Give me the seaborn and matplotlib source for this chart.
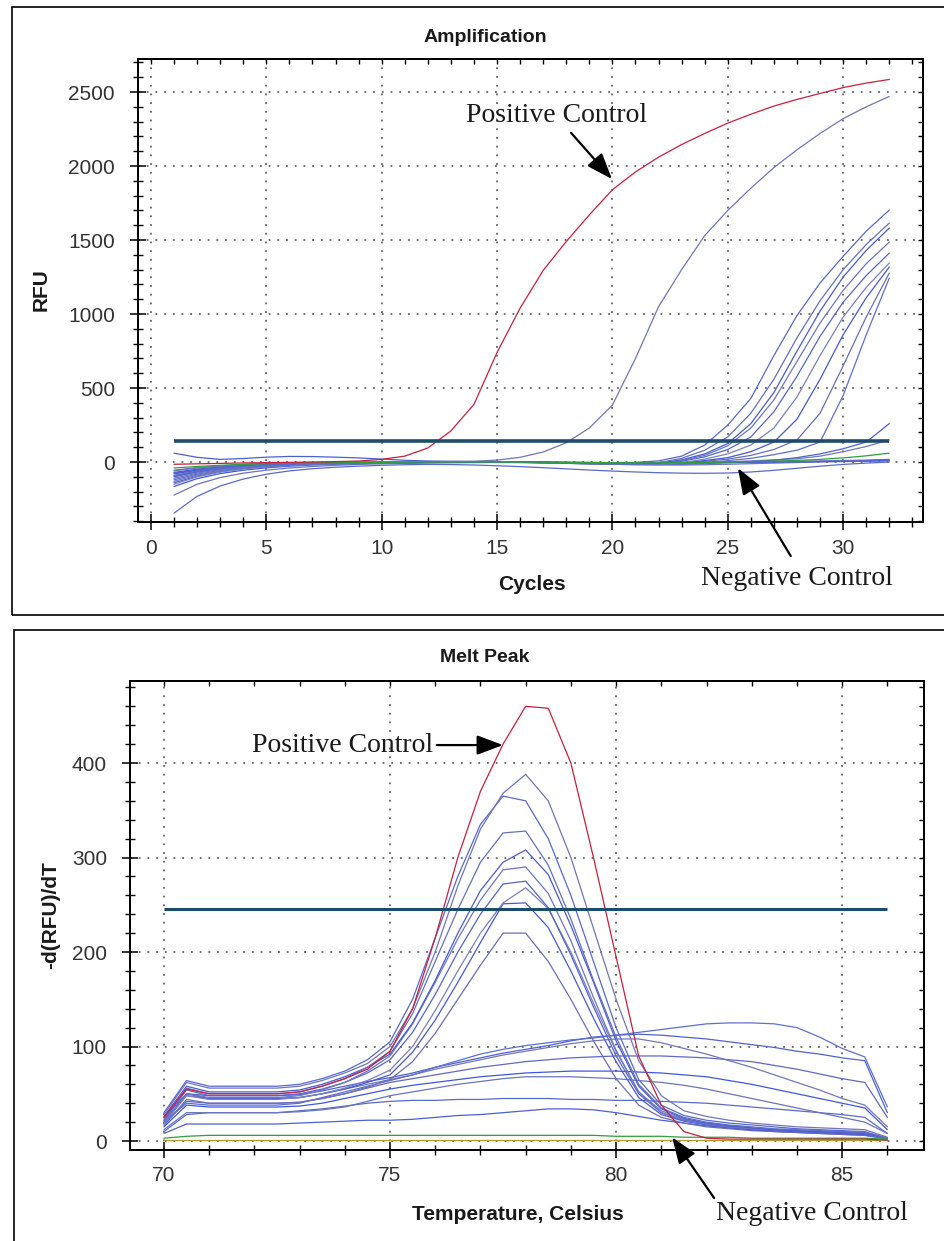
import matplotlib
matplotlib.use("Agg")
import matplotlib.pyplot as plt
import seaborn as sns
import pandas as pd
from matplotlib.ticker import MultipleLocator
from matplotlib.patches import Rectangle

# ---------------- Amplification data (RFU per cycle) ----------------
amp_cycles = list(range(1, 33))
amp_positive = [-15, -12, -9, -6, -4, -2, 0, 3, 7, 18, 40, 95, 210, 390, 740, 1040,
                1295, 1490, 1670, 1840, 1960, 2060, 2145, 2220, 2290, 2350, 2405, 2450,
                2490, 2530, 2560, 2585]
amp_early = [-60, -40, -26, -16, -9, -5, -2, 0, 1, 2, 3, 4, 5, 6, 13, 32, 68, 130, 230,
             385, 700, 1050, 1300, 1530, 1700, 1850, 1990, 2110, 2220, 2320, 2400, 2470]
amp_l1 = [-90, -60, -40, -28, -20, -14, -10, -7, -5, -3, -2, -1, 0, 0, 1, 0, -2, -4, -6,
          -6, -2, 8, 40, 115, 250, 430, 720, 990, 1210, 1390, 1560, 1703]
amp_l2 = [-110, -75, -50, -34, -24, -17, -12, -9, -6, -4, -3, -2, -1, 0, 0, -2, -5, -8,
          -10, -11, -9, -4, 25, 80, 170, 330, 560, 840, 1090, 1300, 1470, 1615]
amp_l3 = [-70, -48, -33, -23, -16, -11, -8, -6, -4, -3, -2, -1, 0, 1, 1, 0, -3, -6, -9,
          -11, -11, -8, 15, 55, 125, 260, 470, 750, 1020, 1250, 1430, 1581]
amp_l4 = [-130, -88, -60, -41, -29, -20, -14, -10, -7, -5, -3, -2, -1, 0, 0, -1, -4, -8,
          -12, -15, -16, -14, 10, 45, 110, 230, 420, 680, 940, 1160, 1340, 1486]
amp_l5 = [-100, -68, -46, -32, -22, -15, -11, -8, -6, -4, -3, -2, -1, 0, 0, -1, -3, -6,
          -9, -12, -13, -10, 5, 35, 85, 170, 340, 580, 850, 1080, 1260, 1412]
amp_l6 = [-150, -100, -68, -47, -33, -23, -16, -11, -8, -5, -3, -2, -1, 0, 0, -1, -3, -6,
          -9, -12, -14, -14, -5, 20, 55, 115, 230, 440, 720, 980, 1180, 1345]
amp_l7 = [-80, -55, -38, -26, -18, -12, -8, -5, -3, -2, -1, 0, 0, 1, 1, 0, -2, -5, -8,
          -10, -11, -11, -6, 10, 30, 70, 135, 290, 560, 860, 1110, 1318]
amp_l8 = [-120, -82, -56, -39, -27, -19, -13, -9, -6, -4, -3, -2, -1, 0, 0, -1, -4, -8,
          -12, -15, -17, -17, -12, 5, 20, 45, 85, 150, 330, 650, 980, 1277]
amp_l9 = [-95, -65, -45, -31, -22, -15, -11, -8, -6, -4, -3, -2, -1, 0, 0, -1, -3, -6,
          -9, -12, -14, -15, -13, -8, 10, 25, 50, 80, 135, 450, 860, 1243]
amp_l10 = [-140, -95, -65, -45, -31, -22, -15, -11, -8, -5, -3, -2, -1, 0, 0, -1, -3, -6,
           -9, -12, -14, -15, -14, -10, -4, 3, 12, 30, 55, 90, 135, 260]
amp_l11 = [-75, -52, -36, -25, -17, -12, -8, -6, -4, -3, -2, -1, 0, 0, 0, -1, -2, -4, -6,
           -8, -9, -9, -7, -3, 2, 8, 15, 22, 40, 70, 105, 150]
amp_green = [-40, -30, -22, -16, -11, -8, -6, -4, -3, -2, -1, 0, 0, 0, 0, 0, -1, -2, -3,
             -4, -5, -5, -4, -2, 0, 3, 7, 11, 18, 28, 42, 60]
amp_top = [60, 32, 18, 24, 33, 38, 37, 33, 28, 20, 12, 7, 4, 2, 1, 0, -1, -2, -3, -4, -4,
           -3, -2, -1, 0, 1, 2, 3, 4, 5, 6, 8]
amp_negative = [-345, -232, -162, -115, -82, -60, -45, -35, -28, -22, -18, -16, -17, -20,
                -25, -31, -38, -46, -54, -61, -67, -72, -75, -76, -74, -67, -56, -42, -28,
                -16, -7, 0]
amp_n2 = [-223, -150, -105, -75, -55, -40, -30, -22, -16, -12, -9, -7, -5, -4, -3, -4, -6,
          -9, -12, -15, -18, -20, -20, -18, -15, -11, -7, -3, 0, 3, 6, 10]
amp_n3 = [-165, -112, -78, -55, -39, -28, -20, -14, -10, -7, -5, -3, -2, -1, 0, 0, -1, -3,
          -5, -7, -8, -9, -8, -6, -4, -2, 0, 2, 4, 7, 10, 14]
amp_n4 = [-55, -38, -26, -18, -12, -8, -5, -3, -2, -1, 0, 0, 1, 1, 1, 0, -1, -2, -3, -4,
          -5, -5, -4, -3, -1, 1, 3, 5, 7, 10, 13, 18]
amp_threshold = 142

# ---------------- Melt peak data (-d(RFU)/dT per temperature) ----------------
melt_temps = [70.0, 70.5, 71.0, 71.5, 72.0, 72.5, 73.0, 73.5, 74.0, 74.5, 75.0, 75.5,
              76.0, 76.5, 77.0, 77.5, 78.0, 78.5, 79.0, 79.5, 80.0, 80.5, 81.0, 81.5,
              82.0, 82.5, 83.0, 83.5, 84.0, 84.5, 85.0, 85.5, 86.0]
melt_positive = [25, 55, 50, 50, 50, 50, 52, 58, 66, 76, 95, 140, 215, 300, 370, 420, 460,
                 458, 400, 300, 195, 90, 38, 10, 3, 2, 2, 2, 2, 2, 2, 2, 1]
melt_p1 = [28, 62, 56, 56, 56, 56, 58, 64, 72, 82, 100, 140, 200, 270, 330, 368, 388, 360,
           300, 225, 150, 85, 48, 32, 26, 22, 19, 17, 15, 14, 13, 12, 4]
melt_p2 = [30, 64, 58, 58, 58, 58, 60, 66, 74, 86, 105, 150, 215, 280, 335, 365, 360, 320,
           260, 190, 120, 65, 38, 27, 22, 19, 17, 15, 13, 12, 11, 10, 3]
melt_p3 = [24, 56, 50, 50, 50, 50, 52, 58, 66, 78, 95, 135, 190, 245, 295, 326, 328, 292,
           235, 170, 110, 60, 35, 25, 20, 17, 15, 13, 12, 11, 10, 9, 3]
melt_p4 = [26, 58, 52, 52, 52, 52, 54, 60, 68, 78, 92, 125, 170, 220, 265, 295, 308, 282,
           228, 168, 106, 58, 34, 24, 19, 16, 14, 12, 11, 10, 9, 8, 3]
melt_p5 = [20, 50, 46, 46, 46, 46, 48, 54, 62, 74, 90, 124, 168, 214, 255, 287, 290, 262,
           212, 152, 96, 52, 30, 22, 18, 15, 13, 12, 11, 10, 9, 8, 2]
melt_p6 = [22, 54, 48, 48, 48, 48, 50, 55, 62, 72, 86, 115, 155, 200, 240, 272, 275, 247,
           197, 142, 90, 50, 30, 22, 18, 15, 13, 12, 11, 10, 9, 8, 2]
melt_p7 = [18, 48, 44, 44, 44, 44, 46, 50, 56, 64, 75, 100, 138, 180, 220, 252, 268, 246,
           200, 146, 95, 52, 32, 23, 19, 16, 14, 12, 11, 10, 9, 8, 2]
melt_p8 = [20, 50, 45, 45, 45, 45, 46, 50, 55, 62, 70, 94, 128, 168, 210, 251, 252, 226,
           180, 130, 84, 46, 28, 21, 17, 14, 12, 11, 10, 9, 8, 7, 2]
melt_p9 = [16, 44, 40, 40, 40, 40, 41, 45, 50, 57, 65, 84, 114, 150, 186, 220, 220, 190,
           150, 106, 66, 38, 25, 19, 15, 13, 11, 10, 9, 8, 7, 6, 2]
melt_b1 = [20, 40, 38, 38, 38, 38, 40, 46, 52, 58, 64, 70, 78, 85, 92, 97, 101, 104, 107,
           109, 112, 115, 118, 121, 124, 125, 125, 124, 120, 110, 98, 89, 36]
melt_b2 = [25, 50, 48, 48, 48, 48, 49, 53, 58, 63, 67, 72, 78, 83, 88, 93, 97, 101, 106,
           110, 112, 113, 112, 110, 108, 105, 102, 99, 95, 92, 88, 85, 30]
melt_b3 = [22, 48, 45, 45, 45, 45, 46, 50, 55, 60, 65, 70, 76, 81, 86, 91, 95, 99, 103,
           106, 108, 108, 104, 98, 92, 85, 78, 70, 62, 54, 45, 38, 15]
melt_b4 = [18, 42, 40, 40, 40, 40, 41, 45, 50, 56, 62, 66, 70, 74, 78, 81, 84, 86, 88, 89,
           90, 90, 90, 89, 88, 86, 84, 80, 76, 71, 66, 62, 25]
melt_b5 = [15, 38, 36, 36, 36, 36, 37, 40, 45, 50, 55, 59, 62, 65, 68, 70, 72, 73, 74, 74,
           74, 73, 72, 70, 68, 64, 60, 55, 50, 45, 40, 35, 12]
melt_b6 = [12, 30, 30, 30, 30, 30, 31, 33, 36, 42, 48, 52, 56, 60, 63, 66, 68, 68, 68, 67,
           66, 64, 62, 59, 55, 50, 45, 40, 35, 30, 25, 20, 8]
melt_b7 = [10, 28, 30, 30, 30, 30, 32, 34, 37, 40, 42, 43, 43, 44, 44, 45, 45, 45, 44, 44,
           43, 43, 42, 41, 40, 38, 36, 34, 32, 30, 28, 25, 8]
melt_b8 = [8, 18, 18, 18, 18, 18, 19, 20, 21, 22, 22, 23, 25, 27, 28, 30, 32, 34, 34, 33,
           30, 26, 22, 19, 16, 14, 12, 10, 9, 8, 7, 6, 3]
melt_green = [3, 5, 6, 6, 6, 6, 6, 6, 6, 6, 6, 6, 6, 6, 6, 6, 6, 6, 6, 6, 5, 5, 5, 4, 4,
              4, 3, 3, 3, 3, 3, 3, 2]
melt_negative = [1, 1, 1, 1, 1, 1, 1, 1, 1, 1, 1, 1, 1, 1, 1, 1, 1, 1, 1, 1, 1, 1, 1, 1,
                 1, 1, 1, 1, 1, 1, 1, 1, 1]
melt_threshold = 245

# ---------------- assemble ----------------
blues = ['#4b5fd6', '#5a6ac9', '#6b74bd', '#3f57e0', '#6068c4', '#7378b8', '#4e63cf',
         '#5d6fd2', '#6a6fb5', '#4658d8', '#7a80c0', '#5564cc', '#6c76c8', '#4a5bd0',
         '#6470c0', '#5868d4', '#7076b8', '#4d60da']
RED = '#c8203c'
GREEN = '#2f9e3c'
THRESH = '#1d4b6c'

amp_series = {
    'n_top': amp_top, 'n_neg': amp_negative, 'n2': amp_n2, 'n3': amp_n3, 'n4': amp_n4,
    'l11': amp_l11, 'l10': amp_l10, 'l9': amp_l9, 'l8': amp_l8, 'l7': amp_l7,
    'l6': amp_l6, 'l5': amp_l5, 'l4': amp_l4, 'l3': amp_l3, 'l2': amp_l2, 'l1': amp_l1,
    'early': amp_early, 'green': amp_green, 'positive': amp_positive,
}
melt_series = {
    'b8': melt_b8, 'b7': melt_b7, 'b6': melt_b6, 'b5': melt_b5, 'b4': melt_b4,
    'b3': melt_b3, 'b2': melt_b2, 'b1': melt_b1,
    'p9': melt_p9, 'p8': melt_p8, 'p7': melt_p7, 'p6': melt_p6, 'p5': melt_p5,
    'p4': melt_p4, 'p3': melt_p3, 'p2': melt_p2, 'p1': melt_p1,
    'green': melt_green, 'negative': melt_negative, 'positive': melt_positive,
}


def long_df(series, xs, xname, yname):
    rows = []
    for name, vals in series.items():
        for x, v in zip(xs, vals):
            rows.append({xname: x, yname: v, 'well': name})
    return pd.DataFrame(rows)


def palette_for(series):
    pal = {}
    i = 0
    for name in series:
        if name == 'positive':
            pal[name] = RED
        elif name == 'green':
            pal[name] = GREEN
        elif name == 'negative':
            pal[name] = '#b89a30'
        else:
            pal[name] = blues[i % len(blues)]
            i += 1
    return pal


amp_df = long_df(amp_series, amp_cycles, 'cycle', 'rfu')
melt_df = long_df(melt_series, melt_temps, 'temp', 'drfu')

sns.set_theme(style='ticks')
plt.rcParams['font.family'] = ['Liberation Sans', 'DejaVu Sans']
plt.rcParams['text.color'] = '#1a1a1a'
plt.rcParams['axes.edgecolor'] = 'black'
plt.rcParams['xtick.color'] = 'black'
plt.rcParams['ytick.color'] = 'black'
plt.rcParams['xtick.labelcolor'] = '#333333'
plt.rcParams['ytick.labelcolor'] = '#333333'

W, H = 945, 1241
fig = plt.figure(figsize=(W / 100, H / 100), dpi=100)
fig.patch.set_facecolor('white')


def fx(px):
    return px / W


def fy(py):
    return 1 - py / H


ax1 = fig.add_axes([fx(138), fy(522), fx(923) - fx(138), fy(59) - fy(522)])
ax2 = fig.add_axes([fx(130), fy(1150), fx(924) - fx(130), fy(681) - fy(1150)])

sns.lineplot(data=amp_df, x='cycle', y='rfu', hue='well', hue_order=list(amp_series),
             palette=palette_for(amp_series), estimator=None, legend=False,
             linewidth=0.9, ax=ax1)
ax1.hlines(amp_threshold, amp_cycles[0], amp_cycles[-1], color=THRESH, lw=2.6, zorder=5)

sns.lineplot(data=melt_df, x='temp', y='drfu', hue='well', hue_order=list(melt_series),
             palette=palette_for(melt_series), estimator=None, legend=False,
             linewidth=0.9, ax=ax2)
ax2.hlines(melt_threshold, melt_temps[0], melt_temps[-1], color=THRESH, lw=2.2, zorder=5)


def style_axes(ax, xlim, ylim, xmaj, xmin, ymaj, ymin, xpad, ypad):
    ax.set_xlim(*xlim)
    ax.set_ylim(*ylim)
    ax.set_xlabel('')
    ax.set_ylabel('')
    ax.xaxis.set_major_locator(MultipleLocator(xmaj))
    ax.xaxis.set_minor_locator(MultipleLocator(xmin))
    ax.yaxis.set_major_locator(MultipleLocator(ymaj))
    ax.yaxis.set_minor_locator(MultipleLocator(ymin))
    ax.grid(True, which='major', color='#4a4a4a', linestyle=(0, (1.2, 4.5)), linewidth=1.1)
    for s in ax.spines.values():
        s.set_visible(True)
        s.set_linewidth(1.1)
        s.set_color('black')
    ax.tick_params(which='major', direction='inout', length=12, width=1.1, labelsize=15,
                   left=True, bottom=True)
    ax.tick_params(which='minor', direction='inout', length=6.5, width=1.0,
                   left=True, bottom=True)
    ax.tick_params(axis='x', which='major', pad=xpad)
    ax.tick_params(axis='y', which='major', pad=ypad)
    # inward ticks on top and right
    axt = ax.twiny()
    axt.set_xlim(*xlim)
    axt.xaxis.set_major_locator(MultipleLocator(xmin))
    axt.tick_params(axis='x', which='both', direction='in', length=3.5, width=1.0,
                    top=True, bottom=False, labeltop=False, labelbottom=False)
    axr = ax.twinx()
    axr.set_ylim(*ylim)
    axr.yaxis.set_major_locator(MultipleLocator(ymin))
    axr.tick_params(axis='y', which='both', direction='in', length=3.5, width=1.0,
                    right=True, left=False, labelright=False, labelleft=False)
    for a in (axt, axr):
        for s in a.spines.values():
            s.set_linewidth(1.1)
            s.set_color('black')


style_axes(ax1, (-0.56, 33.46), (-405, 2723), 5, 1, 500, 100, 6.2, 10.6)
style_axes(ax2, (69.25, 86.81), (-9.5, 486.8), 5, 1, 100, 20, 5.5, 10.6)

# panel texts
fig.text(fx(485), fy(37), 'Amplification', ha='center', va='center', fontsize=14,
         fontweight='bold')
fig.text(fx(532), fy(585), 'Cycles', ha='center', va='center', fontsize=15,
         fontweight='bold')
fig.text(fx(41), fy(290), 'RFU', ha='center', va='center', fontsize=15,
         fontweight='bold', rotation=90)
fig.text(fx(485), fy(658), 'Melt Peak', ha='center', va='center', fontsize=14,
         fontweight='bold')
fig.text(fx(518), fy(1215), 'Temperature, Celsius', ha='center', va='center',
         fontsize=15, fontweight='bold')
fig.text(fx(51), fy(915), '-d(RFU)/dT', ha='center', va='center', fontsize=15,
         fontweight='bold', rotation=90)

# annotations
serif = ['Liberation Serif', 'DejaVu Serif']
arrow = dict(arrowstyle='-|>,head_length=0.8,head_width=0.3', color='black', lw=1.6,
             mutation_scale=20, shrinkB=0)
ax1.annotate('Positive Control', xy=(19.98, 1912), xytext=(17.56, 2338),
             ha='center', va='center', fontsize=20, family=serif,
             arrowprops=dict(arrow, shrinkA=1), annotation_clip=False, zorder=10)
ax1.annotate('Negative Control', xy=(25.44, -41), xytext=(28.0, -790),
             ha='center', va='center', fontsize=20, family=serif,
             arrowprops=dict(arrow, shrinkA=6, relpos=(0.5, 1.0)),
             annotation_clip=False, zorder=10)
ax2.annotate('Positive Control', xy=(77.5, 419), xytext=(73.96, 419),
             ha='center', va='center', fontsize=20, family=serif,
             arrowprops=dict(arrow, shrinkA=0), annotation_clip=False, zorder=10)
ax2.annotate('Negative Control', xy=(81.24, 4), xytext=(84.34, -77),
             ha='center', va='center', fontsize=20, family=serif,
             arrowprops=dict(arrow, shrinkA=0, relpos=(0.0, 1.0)),
             annotation_clip=False, zorder=10)

# panel frames
fig.patches.append(Rectangle((fx(12), fy(615)), fx(1000) - fx(12), fy(7) - fy(615),
                             transform=fig.transFigure, fill=False, lw=1.2,
                             ec='black'))
fig.patches.append(Rectangle((fx(14), fy(1260)), fx(1000) - fx(14), fy(630) - fy(1260),
                             transform=fig.transFigure, fill=False, lw=1.2,
                             ec='black'))

fig.savefig('out.png', dpi=100, facecolor='white')
